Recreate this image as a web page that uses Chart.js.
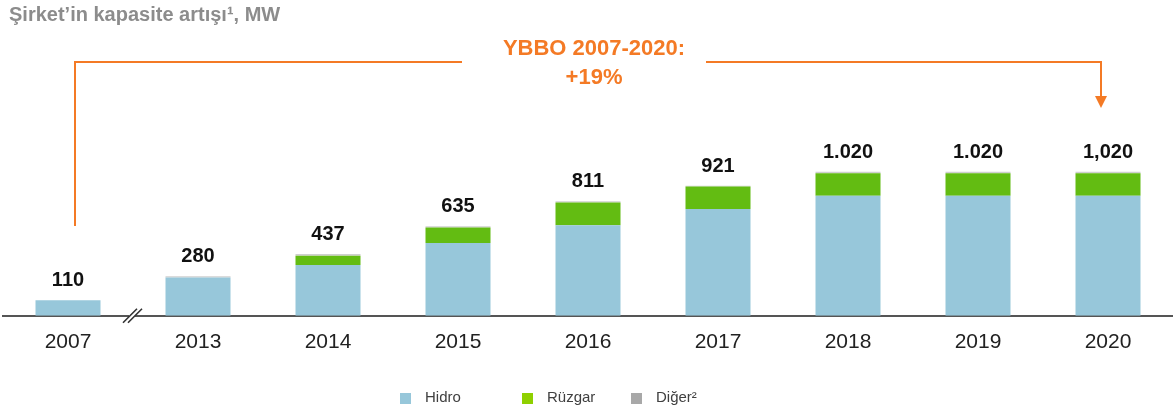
<!DOCTYPE html>
<html>
<head>
<meta charset="utf-8">
<script src="https://cdn.jsdelivr.net/npm/chart.js@4.4.1/dist/chart.umd.min.js"></script>
<style>
  html, body { margin: 0; padding: 0; background: #fff; }
  #wrap { width: 1173px; height: 410px; }
</style>
</head>
<body>
<div id="wrap"><canvas id="chartCapacity" width="1173" height="410"></canvas></div>
<script>
      // veri
      const years = ["2007", "2013", "2014", "2015", "2016", "2017", "2018", "2019", "2020"];
      const hidro = [110, 272, 359, 515, 642, 756, 850, 850, 850];
      const ruzgar = [0, 0, 66, 110, 160, 160, 160, 160, 160];
      const diger = [0, 8, 12, 10, 9, 5, 10, 10, 10];
      const totalLabels = ["110", "280", "437", "635", "811", "921", "1.020", "1.020", "1,020"];
      const seriesNames = ["Hidro", "Rüzgar", "Diğer²"];

      const ORANGE = "#f47a25";
      const FONT = "'Liberation Sans', Arial, sans-serif";
      const legendColors = ["#97c7da", "#8fd000", "#a8a8a8"];

      const chartCapacity = document.getElementById("chartCapacity");

      // toplam etiketleri, başlık, ok ve lejant
      const decorPlugin = {
        id: "decor",
        afterDatasetsDraw(chart) {
          const ctx = chart.ctx;
          const x = chart.scales.x;
          const y = chart.scales.y;

          // toplam değerler
          ctx.save();
          ctx.fillStyle = "#111";
          ctx.font = "bold 20px " + FONT;
          ctx.textAlign = "center";
          ctx.textBaseline = "alphabetic";
          years.forEach((yr, i) => {
            const total = hidro[i] + ruzgar[i] + diger[i];
            ctx.fillText(totalLabels[i], x.getPixelForValue(i), y.getPixelForValue(total) - 14);
          });
          ctx.restore();

          // eksen kırılma işareti
          const bx = (x.getPixelForValue(0) + x.getPixelForValue(1)) / 2;
          const by = y.getPixelForValue(0);
          ctx.save();
          ctx.fillStyle = "#fff";
          ctx.fillRect(bx - 4, by - 3, 6, 6);
          ctx.strokeStyle = "#333";
          ctx.lineWidth = 1.6;
          ctx.beginPath();
          ctx.moveTo(bx - 10, by + 7); ctx.lineTo(bx + 4, by - 7);
          ctx.moveTo(bx - 5, by + 7); ctx.lineTo(bx + 9, by - 7);
          ctx.stroke();
          ctx.restore();

          // başlık
          ctx.save();
          ctx.fillStyle = "#8c8c8c";
          ctx.font = "bold 20px " + FONT;
          ctx.textAlign = "left";
          ctx.fillText("Şirket’in kapasite artışı¹, MW", 9, 21);
          ctx.restore();

          // YBBO oku
          const lx = x.getPixelForValue(0) + 7;
          const rx = x.getPixelForValue(years.length - 1) - 7;
          const ly = 62;
          const cx = 594;
          ctx.save();
          ctx.strokeStyle = ORANGE;
          ctx.fillStyle = ORANGE;
          ctx.lineWidth = 2;
          ctx.beginPath();
          ctx.moveTo(lx, 226); ctx.lineTo(lx, ly); ctx.lineTo(462, ly);
          ctx.moveTo(706, ly); ctx.lineTo(rx, ly); ctx.lineTo(rx, 98);
          ctx.stroke();
          ctx.beginPath();
          ctx.moveTo(rx - 6, 96); ctx.lineTo(rx + 6, 96); ctx.lineTo(rx, 108);
          ctx.closePath();
          ctx.fill();
          ctx.font = "bold 22px " + FONT;
          ctx.textAlign = "center";
          ctx.textBaseline = "middle";
          ctx.fillText("YBBO 2007-2020:", cx, 49);
          ctx.fillText("+19%", cx, 78);
          ctx.restore();

          // lejant
          const legendX = [400, 522, 631];
          ctx.save();
          ctx.font = "15px " + FONT;
          ctx.textBaseline = "middle";
          ctx.textAlign = "left";
          seriesNames.forEach((name, i) => {
            ctx.fillStyle = legendColors[i];
            ctx.fillRect(legendX[i], 393, 11, 11);
            ctx.fillStyle = "#404040";
            ctx.fillText(name, legendX[i] + 25, 398);
          });
          ctx.restore();
        }
      };

      new Chart(chartCapacity, {
        type: "bar",
        data: {
          labels: years,
          datasets: [
            { label: seriesNames[0], data: hidro, backgroundColor: "#97c7da" },
            { label: seriesNames[1], data: ruzgar, backgroundColor: "#63bc12" },
            { label: seriesNames[2], data: diger, backgroundColor: "#cfcfcf" }
          ]
        },
        options: {
          responsive: false,
          animation: false,
          layout: { padding: { left: 3, right: 0, top: 104, bottom: 41 } },
          datasets: { bar: { barPercentage: 0.5, categoryPercentage: 1, borderWidth: 0 } },
          plugins: { legend: { display: false }, tooltip: { enabled: false } },
          scales: {
            x: {
              stacked: true,
              grid: { display: false, drawTicks: false },
              border: { display: true, color: "#555", width: 2 },
              ticks: { color: "#222", font: { family: FONT, size: 21 }, padding: 14 }
            },
            y: {
              stacked: true,
              display: false,
              min: 0,
              max: 1500
            }
          }
        },
        plugins: [decorPlugin]
      });
</script>
</body>
</html>
